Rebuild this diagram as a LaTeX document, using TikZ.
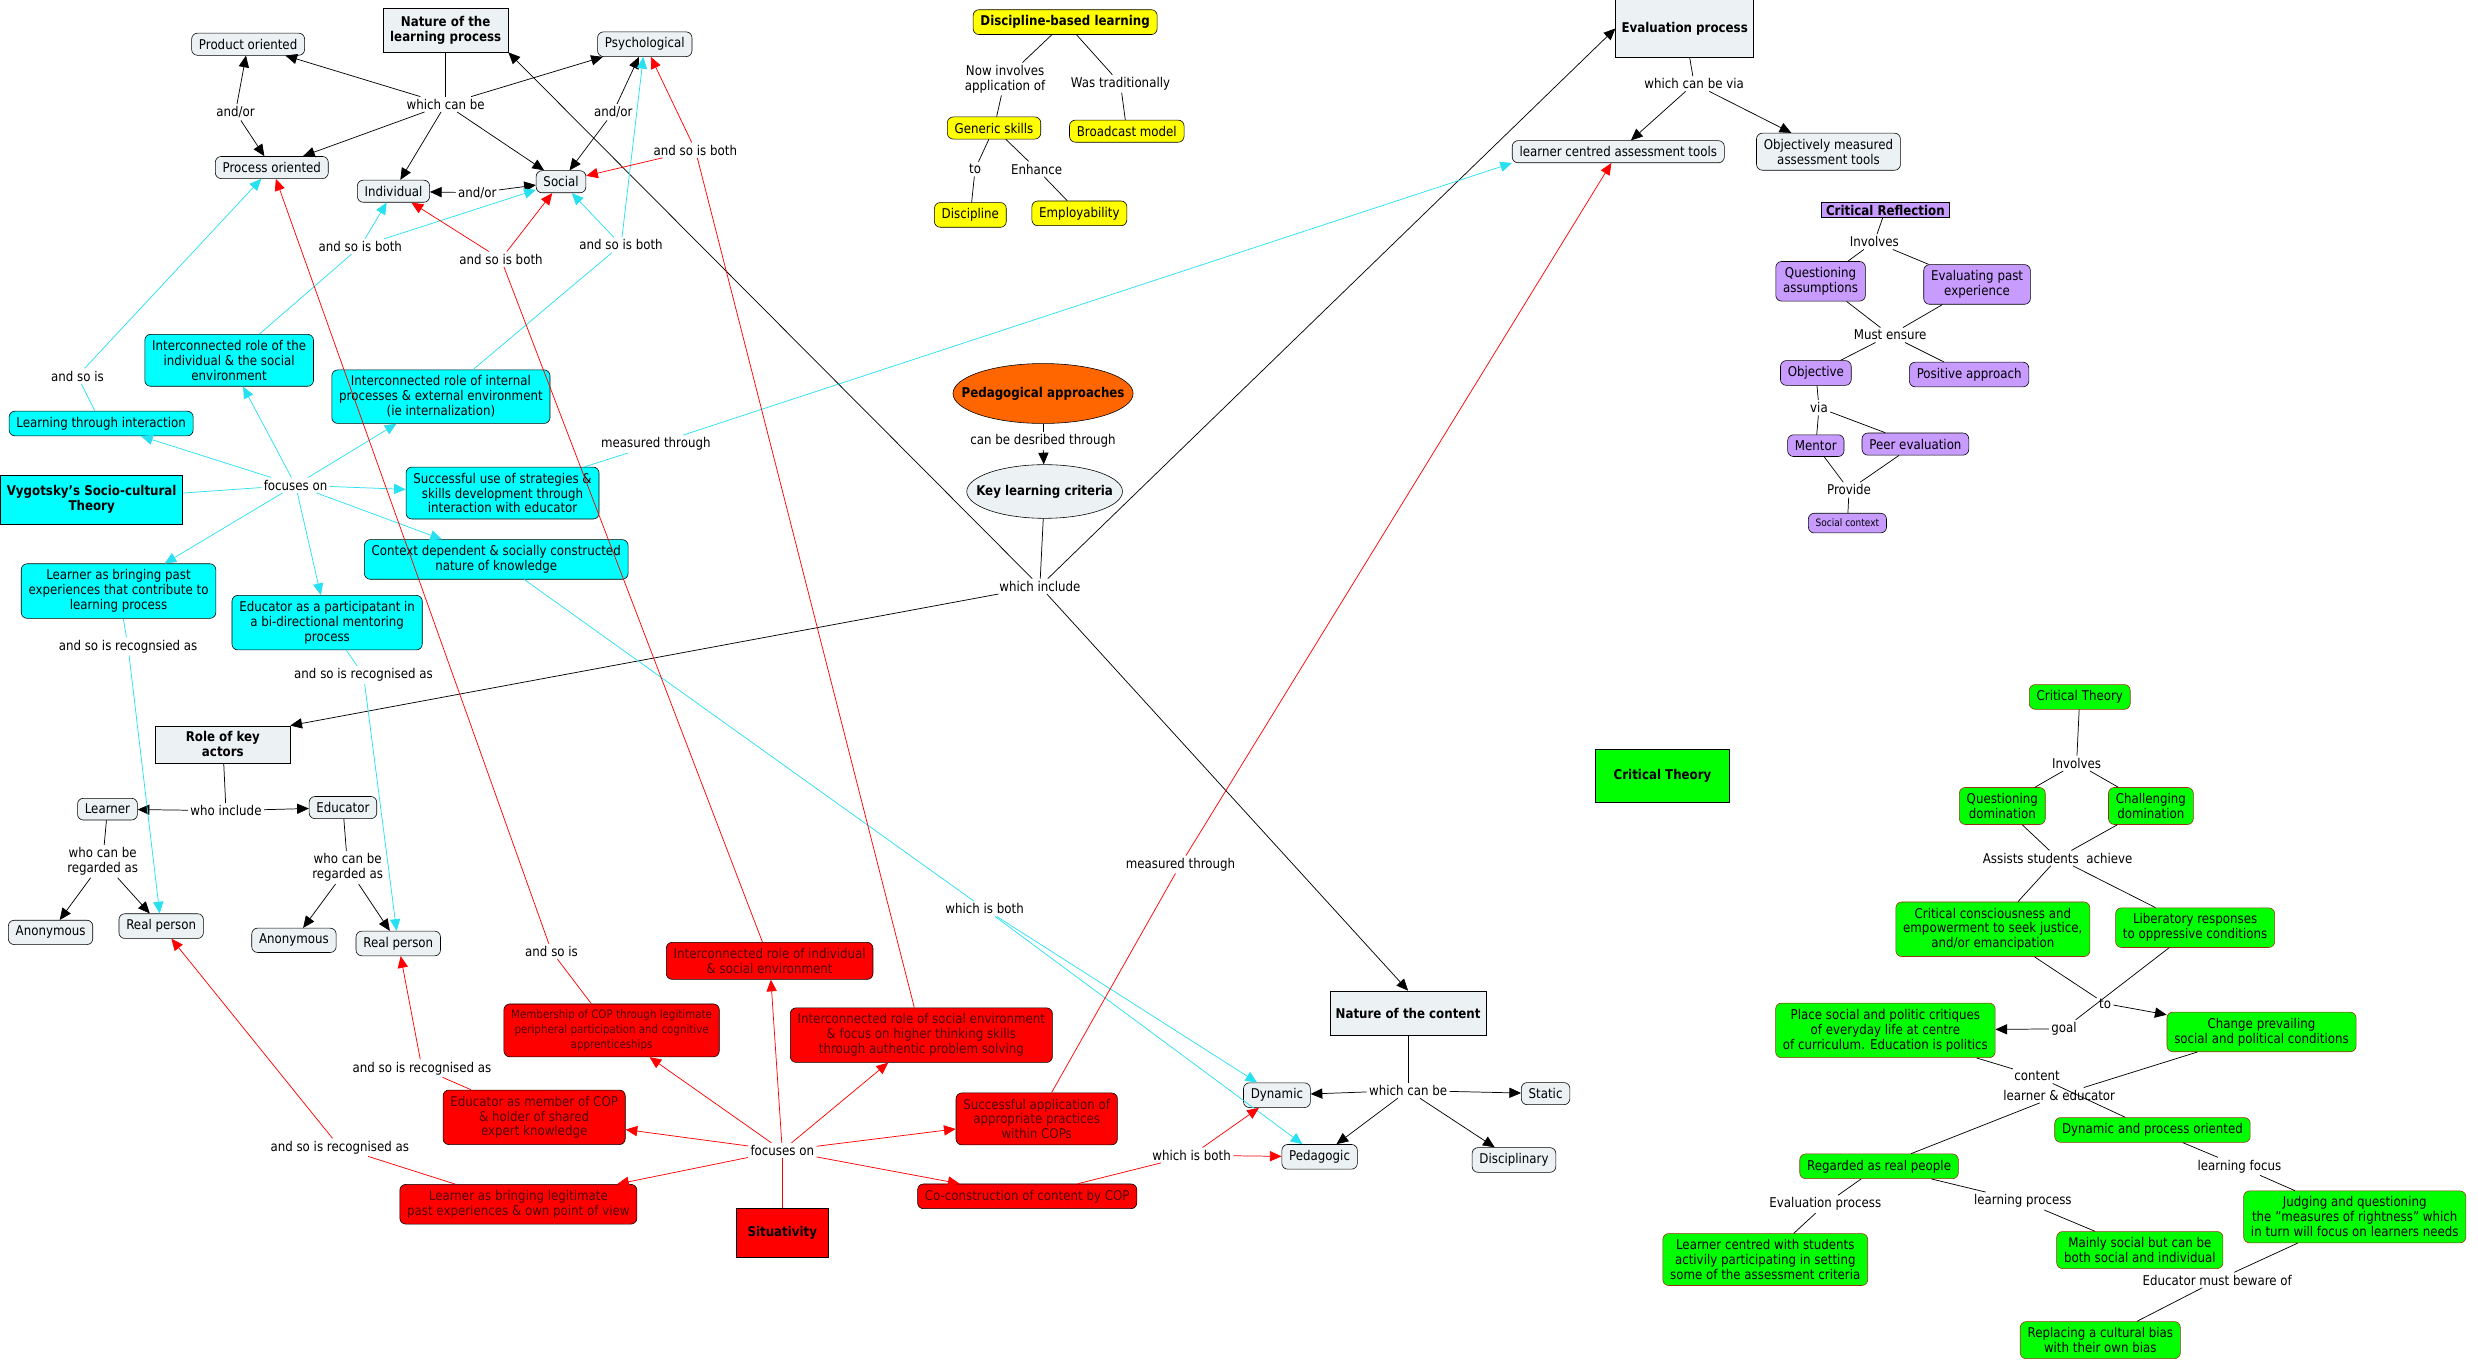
\documentclass[tikz,border=0pt]{standalone}
\usepackage{fontspec}
\setmainfont{DejaVu Sans}[FakeStretch=0.88]
\usepackage{tikz}
\usetikzlibrary{arrows.meta,shapes.geometric}
\definecolor{pale}{RGB}{236,242,244}
\definecolor{vygcyan}{RGB}{0,255,255}
\definecolor{linecyan}{RGB}{40,225,240}
\definecolor{situred}{RGB}{255,0,0}
\definecolor{situtext}{RGB}{80,0,0}
\definecolor{discyellow}{RGB}{255,255,0}
\definecolor{pedorange}{RGB}{255,102,0}
\definecolor{reflpurple}{RGB}{200,155,255}
\definecolor{critgreen}{RGB}{0,255,0}
\definecolor{critedge}{RGB}{150,50,20}
\newcommand{\mapfont}{\fontsize{9.2}{10.2}\selectfont}

\begin{document}
\begin{tikzpicture}[x=0.038cm, y=-0.038cm, font=\mapfont,
  concept/.style={draw, rounded corners=4pt, inner xsep=5pt, inner ysep=4pt, align=center, fill=pale},
  heading/.style={draw, inner sep=4pt, align=center, fill=pale, font=\mapfont\bfseries},
  vygbox/.style={concept, fill=vygcyan},
  situbox/.style={concept, fill=situred, text=situtext},
  discbox/.style={concept, fill=discyellow},
  reflbox/.style={concept, fill=reflpurple},
  critbox/.style={concept, fill=critgreen, draw=critedge},
  phrase/.style={inner sep=1.5pt, align=center},
  con/.style={line width=0.5pt},
  arr/.style={con, -{Triangle[length=8pt, width=7pt]}},
  cyancon/.style={con, linecyan},
  cyanarr/.style={arr, linecyan},
  redcon/.style={con, red},
  redarr/.style={arr, red}]
  \useasboundingbox (0,0) rectangle (1568,866);

  % Nature of the learning process and what it can be.
  \node[heading, minimum width=3cm, minimum height=1.06cm] (natLearn) at (282,19) {Nature of the\\learning process};
  \node[concept] (prodOr) at (157,28) {Product oriented};
  \node[concept] (psych) at (408,28) {Psychological};
  \node[concept] (procOr) at (172,106) {Process oriented};
  \node[concept] (indiv) at (249,121) {Individual};
  \node[concept] (social) at (355,115) {Social};
  \node[phrase] (canBe) at (282,66) {which can be};
  \node[phrase] (andOrA) at (149,71) {and/or};
  \node[phrase] (andOrB) at (388,71) {and/or};
  \node[phrase] (andOrC) at (302,122) {and/or};

  % Vygotsky's theory, in cyan.
  \node[vygbox] (lti) at (64,268) {Learning through interaction};
  \node[vygbox] (irise) at (145,228) {Interconnected role of the\\individual \& the social\\environment};
  \node[vygbox] (iripe) at (279,251) {Interconnected role of internal\\processes \& external environment\\(ie internalization)};
  \node[heading, fill=vygcyan, minimum width=4.37cm, minimum height=1.18cm] (vyg) at (58,316) {Vygotsky's Socio-cultural\\Theory};
  \node[vygbox] (sus) at (318,312) {Successful use of strategies \&\\skills development through\\interaction with educator};
  \node[vygbox] (cds) at (314,354) {Context dependent \& socially constructed\\nature of knowledge};
  \node[vygbox] (lbp) at (75,374) {Learner as bringing past\\experiences that contribute to\\learning process};
  \node[vygbox] (eap) at (207,394) {Educator as a participatant in\\a bi-directional mentoring\\process};
  \node[phrase] (focVyg) at (187,307) {focuses on};
  \node[phrase] (soIsBothC1) at (228,156) {and so is both};
  \node[phrase] (soIsBothC2) at (393,155) {and so is both};
  \node[phrase] (soIsC) at (49,238) {and so is};
  \node[phrase] (measC) at (415,281) {measured through};
  \node[phrase] (recLbp) at (81,409) {and so is recognsied as};
  \node[phrase] (recEap) at (230,427) {and so is recognised as};
  \node[phrase] (bothC) at (623,575) {which is both};

  % Role of key actors.
  \node[heading, minimum width=3.23cm, minimum height=0.84cm] (roleKey) at (141,471) {Role of key\\actors};
  \node[phrase] (whoInc) at (143,513) {who include};
  \node[concept] (learner) at (68,512) {Learner};
  \node[concept] (educator) at (217,511) {Educator};
  \node[phrase] (regL) at (65,545) {who can be\\regarded as};
  \node[phrase] (regE) at (220,549) {who can be\\regarded as};
  \node[concept] (anonL) at (32,590) {Anonymous};
  \node[concept] (realL) at (102,586) {Real person};
  \node[concept] (anonE) at (186,595) {Anonymous};
  \node[concept] (realE) at (252,597) {Real person};

  % Situativity, in red.
  \node[situbox] (iris) at (487,608) {Interconnected role of individual\\\& social environment};
  \node[situbox, font=\fontsize{8}{10.2}\selectfont] (mcop) at (387,652) {Membership of COP through legitimate\\peripheral participation and cognitive\\apprenticeships};
  \node[situbox] (irse) at (583,655) {Interconnected role of social environment\\\& focus on higher thinking skills\\through authentic problem solving};
  \node[situbox] (emc) at (338,707) {Educator as member of COP\\\& holder of shared\\expert knowledge};
  \node[situbox] (sap) at (656,708) {Successful application of\\appropriate practices\\within COPs};
  \node[situbox] (lbl) at (328,762) {Learner as bringing legitimate\\past experiences \& own point of view};
  \node[heading, fill=situred, minimum width=2.2cm, minimum height=1.18cm] (situ) at (495,780) {Situativity};
  \node[situbox] (coc) at (650,757) {Co-construction of content by COP};
  \node[phrase] (focSit) at (495,728) {focuses on};
  \node[phrase] (soIsR) at (349,602) {and so is};
  \node[phrase] (soIsBothR1) at (317,164) {and so is both};
  \node[phrase] (soIsBothR2) at (440,95) {and so is both};
  \node[phrase] (recEmc) at (267,676) {and so is recognised as};
  \node[phrase] (recLbl) at (215,726) {and so is recognised as};
  \node[phrase] (bothR) at (754,731) {which is both};
  \node[phrase] (measR) at (747,547) {measured through};

  % Discipline-based learning, in yellow.
  \node[discbox, font=\mapfont\bfseries] (dbl) at (674,14) {Discipline-based learning};
  \node[discbox] (generic) at (629,81) {Generic skills};
  \node[discbox] (broadcast) at (713,83) {Broadcast model};
  \node[discbox] (discipline) at (614,136) {Discipline};
  \node[discbox] (employ) at (683,135) {Employability};
  \node[phrase] (nowInv) at (636,50) {Now involves\\application of};
  \node[phrase] (wasTrad) at (709,53) {Was traditionally};
  \node[phrase] (toDisc) at (617,107) {to};
  \node[phrase] (enhance) at (656,107) {Enhance};

  % The two ellipses in the middle.
  \node[ellipse, draw, fill=pedorange, font=\mapfont\bfseries, inner xsep=-0.43cm, minimum width=4.33cm, minimum height=1.44cm] (ped) at (660,249) {Pedagogical approaches};
  \node[phrase] (described) at (660,279) {can be desribed through};
  \node[ellipse, draw, fill=pale, font=\mapfont\bfseries, inner xsep=-0.32cm, minimum width=3.72cm, minimum height=1.29cm] (klc) at (661,311) {Key learning criteria};
  \node[phrase] (whichInc) at (658,371) {which include};

  % Evaluation process.
  \node[heading, minimum width=3.23cm, minimum height=1.41cm] (evalProc) at (1066,18) {Evaluation process};
  \node[phrase] (canBeVia) at (1072,53) {which can be via};
  \node[concept] (lcat) at (1024,96) {learner centred assessment tools};
  \node[concept] (omat) at (1157,96) {Objectively measured\\assessment tools};

  % Critical reflection, in purple.
  \node[heading, fill=reflpurple, inner sep=1.5pt, minimum width=3.08cm] (critRefl) at (1193,133) {Critical Reflection};
  \node[phrase] (involvesP) at (1186,153) {Involves};
  \node[reflbox] (qa) at (1152,178) {Questioning\\assumptions};
  \node[reflbox] (epe) at (1251,180) {Evaluating past\\experience};
  \node[phrase] (mustEnsure) at (1196,212) {Must ensure};
  \node[reflbox] (objective) at (1149,236) {Objective};
  \node[reflbox] (positive) at (1246,237) {Positive approach};
  \node[phrase] (via) at (1151,258) {via};
  \node[reflbox] (mentor) at (1149,282) {Mentor};
  \node[reflbox] (peer) at (1212,281) {Peer evaluation};
  \node[phrase] (provide) at (1170,310) {Provide};
  \node[reflbox, font=\fontsize{7}{8}\selectfont] (socCtx) at (1169,331) {Social context};

  % Nature of the content.
  \node[heading, minimum width=3.65cm, minimum height=1.06cm] (natContent) at (891,641) {Nature of the content};
  \node[phrase] (canBeC) at (891,690) {which can be};
  \node[concept] (dynamic) at (808,693) {Dynamic};
  \node[concept] (static) at (978,692) {Static};
  \node[concept] (pedagogic) at (835,732) {Pedagogic};
  \node[concept] (disciplinary) at (958,734) {Disciplinary};

  % Critical theory, in green.
  \node[heading, fill=critgreen, minimum width=3.23cm, minimum height=1.29cm] (critTheory) at (1052,491) {Critical Theory};
  \node[critbox] (ctTop) at (1316,441) {Critical Theory};
  \node[phrase] (involvesG) at (1314,483) {Involves};
  \node[critbox] (qd) at (1267,510) {Questioning\\domination};
  \node[critbox] (cd) at (1361,510) {Challenging\\domination};
  \node[phrase] (assists) at (1302,543) {Assists students~~achieve};
  \node[critbox] (cce) at (1261,588) {Critical consciousness and\\empowerment to seek justice,\\and/or emancipation};
  \node[critbox] (lr) at (1389,587) {Liberatory responses\\to oppressive conditions};
  \node[phrase] (toG) at (1332,635) {to};
  \node[phrase] (goal) at (1306,651) {goal};
  \node[critbox] (psp) at (1193,652) {Place social and politic critiques\\of everyday life at centre\\of curriculum. Education is politics};
  \node[critbox] (cps) at (1431,653) {Change prevailing\\social and political conditions};
  \node[phrase] (content) at (1289,681) {content};
  \node[phrase] (lnrEdu) at (1303,693) {learner \& educator};
  \node[critbox] (dpo) at (1362,715) {Dynamic and process oriented};
  \node[critbox] (rrp) at (1189,738) {Regarded as real people};
  \node[phrase] (lrnFocus) at (1417,738) {learning focus};
  \node[critbox] (jq) at (1490,770) {Judging and questioning\\the "measures of rightness" which\\in turn will focus on learners needs};
  \node[phrase] (evalG) at (1155,762) {Evaluation process};
  \node[phrase] (lrnProc) at (1280,760) {learning process};
  \node[critbox] (lcs) at (1117,797) {Learner centred with students\\activily participating in setting\\some of the assessment criteria};
  \node[critbox] (ms) at (1354,791) {Mainly social but can be\\both social and individual};
  \node[phrase] (beware) at (1403,810) {Educator must beware of};
  \node[critbox] (rcb) at (1329,848) {Replacing a cultural bias\\with their own bias};

  % Black links.
  \draw[con] (natLearn) -- (canBe);
  \foreach \dest in {prodOr,procOr,indiv,social,psych}
    \draw[arr] (canBe) -- (\dest);
  \foreach \dest in {prodOr,procOr}
    \draw[arr] (andOrA) -- (\dest);
  \foreach \dest in {psych,social}
    \draw[arr] (andOrB) -- (\dest);
  \foreach \dest in {indiv,social}
    \draw[arr] (andOrC) -- (\dest);
  \draw[con] (ped) -- (described);
  \draw[arr] (described) -- (klc);
  \draw[con] (klc) -- (whichInc);
  \draw[arr] (whichInc) -- (natLearn.south east);
  \draw[arr] (whichInc) -- (evalProc.west);
  \draw[arr] (whichInc) -- (roleKey.north east);
  \draw[arr] (whichInc) -- (natContent.north);
  \draw[con] (evalProc) -- (canBeVia);
  \foreach \dest in {lcat,omat}
    \draw[arr] (canBeVia) -- (\dest);
  \draw[con] (roleKey) -- (whoInc);
  \foreach \dest in {learner,educator}
    \draw[arr] (whoInc) -- (\dest);
  \draw[con] (learner) -- (regL);
  \foreach \dest in {anonL,realL}
    \draw[arr] (regL) -- (\dest);
  \draw[con] (educator) -- (regE);
  \foreach \dest in {anonE,realE}
    \draw[arr] (regE) -- (\dest);
  \draw[con] (natContent) -- (canBeC);
  \foreach \dest in {dynamic,static,pedagogic,disciplinary}
    \draw[arr] (canBeC) -- (\dest);

  % Cyan links.
  \draw[cyancon] (vyg) -- (focVyg);
  \foreach \dest in {lti,irise,iripe,sus,cds,eap,lbp}
    \draw[cyanarr] (focVyg) -- (\dest);
  \draw[cyancon] (irise) -- (soIsBothC1);
  \foreach \dest in {indiv,social}
    \draw[cyanarr] (soIsBothC1) -- (\dest);
  \draw[cyancon] (iripe) -- (soIsBothC2);
  \foreach \dest in {social,psych}
    \draw[cyanarr] (soIsBothC2) -- (\dest);
  \draw[cyancon] (lti) -- (soIsC);
  \draw[cyanarr] (soIsC) -- (procOr);
  \draw[cyancon] (sus) -- (measC);
  \draw[cyanarr] (measC) -- (lcat.south west);
  \draw[cyancon] (lbp) -- (recLbp);
  \draw[cyanarr] (recLbp) -- (realL);
  \draw[cyancon] (eap) -- (recEap);
  \draw[cyanarr] (recEap) -- (realE);
  \draw[cyancon] (cds) -- (bothC);
  \foreach \dest in {dynamic,pedagogic}
    \draw[cyanarr] (bothC) -- (\dest);

  % Red links.
  \draw[redcon] (situ) -- (focSit);
  \foreach \dest in {iris,mcop,irse,emc,sap,lbl,coc}
    \draw[redarr] (focSit) -- (\dest);
  \draw[redcon] (mcop) -- (soIsR);
  \draw[redarr] (soIsR) -- (procOr);
  \draw[redcon] (iris) -- (soIsBothR1);
  \foreach \dest in {indiv,social}
    \draw[redarr] (soIsBothR1) -- (\dest);
  \draw[redcon] (irse) -- (soIsBothR2);
  \foreach \dest in {psych,social}
    \draw[redarr] (soIsBothR2) -- (\dest);
  \draw[redcon] (emc) -- (recEmc);
  \draw[redarr] (recEmc) -- (realE);
  \draw[redcon] (lbl) -- (recLbl);
  \draw[redarr] (recLbl) -- (realL);
  \draw[redcon] (coc) -- (bothR);
  \foreach \dest in {dynamic,pedagogic}
    \draw[redarr] (bothR) -- (\dest);
  \draw[redcon] (sap) -- (measR);
  \draw[redarr] (measR) -- (lcat);

  % Plain links of the yellow and purple groups.
  \draw[con] (dbl) -- (nowInv);
  \draw[con] (nowInv) -- (generic);
  \draw[con] (dbl) -- (wasTrad);
  \draw[con] (wasTrad) -- (broadcast);
  \draw[con] (generic) -- (toDisc);
  \draw[con] (toDisc) -- (discipline);
  \draw[con] (generic) -- (enhance);
  \draw[con] (enhance) -- (employ);
  \draw[con] (critRefl) -- (involvesP);
  \foreach \dest in {qa,epe}
    \draw[con] (involvesP) -- (\dest);
  \foreach \src in {qa,epe}
    \draw[con] (\src) -- (mustEnsure);
  \foreach \dest in {objective,positive}
    \draw[con] (mustEnsure) -- (\dest);
  \draw[con] (objective) -- (via);
  \foreach \dest in {mentor,peer}
    \draw[con] (via) -- (\dest);
  \foreach \src in {mentor,peer}
    \draw[con] (\src) -- (provide);
  \draw[con] (provide) -- (socCtx);

  % Links of the green group.
  \draw[con] (ctTop) -- (involvesG);
  \foreach \dest in {qd,cd}
    \draw[con] (involvesG) -- (\dest);
  \foreach \src in {qd,cd}
    \draw[con] (\src) -- (assists);
  \foreach \dest in {cce,lr}
    \draw[con] (assists) -- (\dest);
  \draw[con] (cce) -- (toG);
  \draw[arr] (toG) -- (cps);
  \draw[con] (lr) -- (goal);
  \draw[arr] (goal) -- (psp);
  \draw[con] (psp) -- (content);
  \draw[con] (content) -- (dpo);
  \draw[con] (cps) -- (lnrEdu);
  \draw[con] (lnrEdu) -- (rrp);
  \draw[con] (dpo) -- (lrnFocus);
  \draw[con] (lrnFocus) -- (jq);
  \draw[con] (rrp) -- (evalG);
  \draw[con] (evalG) -- (lcs);
  \draw[con] (rrp) -- (lrnProc);
  \draw[con] (lrnProc) -- (ms);
  \draw[con] (jq) -- (beware);
  \draw[con] (beware) -- (rcb);
\end{tikzpicture}
\end{document}
